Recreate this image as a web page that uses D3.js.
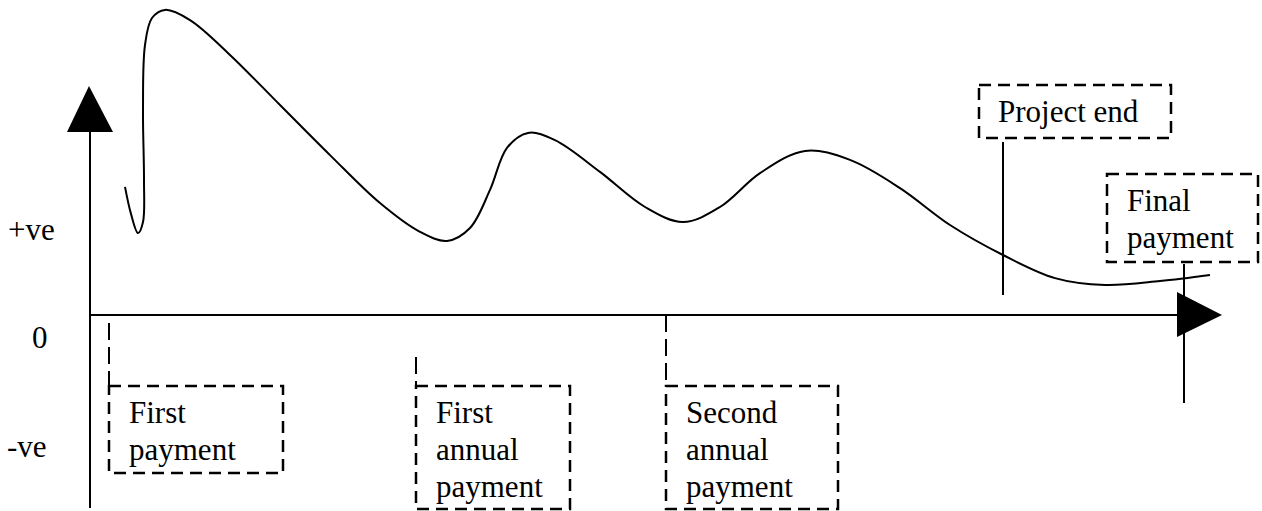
<!DOCTYPE html>
<html>
<head>
<meta charset="utf-8">
<script src="https://cdn.jsdelivr.net/npm/d3@7/dist/d3.min.js"></script>
<style>
  body { margin: 0; background: #fff; }
  svg { display: block; }
  text { font-family: "Liberation Serif", "Times New Roman", serif; font-size: 31px; fill: #000; }
</style>
</head>
<body>
<div id="chart"></div>
<script>
// cash position curve (time units, cash units)
var curveTime = [3.5, 4.1, 4.8, 5.3, 5.4, 5.3, 5.5, 6.2, 7.5, 10.0, 14.0, 19.0, 24.0, 29.0, 33.0,
    35.7, 38.0, 40.0, 41.7, 43.8, 46.5, 51.0, 55.5, 59.3, 63.0, 67.0, 71.5, 76.0, 81.0, 86.0,
    91.3, 96.5, 101.5, 107.0, 112.0];
var curveCash = [42.7, 33.7, 27.3, 31.0, 45.0, 68.3, 90.0, 99.0, 101.7, 98.3, 86.7, 70.0, 53.3, 37.3, 27.7,
    24.7, 29.0, 41.7, 55.7, 60.7, 58.3, 47.7, 36.0, 31.0, 36.0, 47.3, 54.7, 51.7, 42.3, 30.0,
    20.0, 12.3, 10.0, 11.3, 13.3];

// payment events below the axis
var paymentNames = [["First", "payment"], ["First", "annual", "payment"], ["Second", "annual", "payment"]];
var paymentTimes = [1.9, 32.6, 57.6];

// events above the axis
var endNames = [["Project end"], ["Final", "payment"]];
var endTimes = [91.3, 109.4];

var yLabels = ["+ve", "0", "-ve"];

var width = 1262, height = 511;
var svg = d3.select("#chart").append("svg")
    .attr("width", width)
    .attr("height", height);

var x = d3.scaleLinear().domain([0, 113.2]).range([90, 1222]);
var y = d3.scaleLinear().domain([0, 100]).range([315, 15]);

// axes
svg.append("line")
    .attr("x1", x(0)).attr("x2", x(0))
    .attr("y1", y(61)).attr("y2", y(-64.3))
    .attr("stroke", "#000").attr("stroke-width", 2);
svg.append("path")
    .attr("d", "M" + (x(0) - 23) + "," + y(61) + "L" + (x(0) + 23) + "," + y(61) + "L" + (x(0) - 1) + "," + (y(61) - 46) + "Z")
    .attr("fill", "#000");

svg.append("line")
    .attr("x1", x(0)).attr("x2", x(108.7))
    .attr("y1", y(0)).attr("y2", y(0))
    .attr("stroke", "#000").attr("stroke-width", 2);

// y labels
var labelPos = [[8, 240], [32, 348], [7, 457]];
svg.selectAll(".ylab")
    .data(yLabels)
    .enter().append("text")
    .attr("class", "ylab")
    .attr("x", (d, i) => labelPos[i][0])
    .attr("y", (d, i) => labelPos[i][1])
    .text(d => d);

// payment boxes below the axis
var boxW = [174, 154, 172];
var boxTop = 386, boxBottom = [473, 509, 509];
var connTop = [y(-2.7), y(-14), y(0)];

paymentTimes.forEach(function (t, i) {
    var bx = x(t);
    svg.append("line")
        .attr("x1", bx).attr("x2", bx)
        .attr("y1", connTop[i]).attr("y2", boxTop)
        .attr("stroke", "#000").attr("stroke-width", 2)
        .attr("stroke-dasharray", "17,7");
    svg.append("rect")
        .attr("x", bx).attr("y", boxTop)
        .attr("width", boxW[i]).attr("height", boxBottom[i] - boxTop)
        .attr("fill", "none").attr("stroke", "#000").attr("stroke-width", 2.5)
        .attr("stroke-dasharray", "12,7");
    var txt = svg.append("text");
    paymentNames[i].forEach(function (s, j) {
        txt.append("tspan")
            .attr("x", bx + 20)
            .attr("y", boxTop + 37 + j * 37)
            .text(s);
    });
});

// curve
var line = d3.line()
    .x(d => x(d[0]))
    .y(d => y(d[1]))
    .curve(d3.curveCatmullRom.alpha(0.5));

svg.append("path")
    .datum(d3.zip(curveTime, curveCash))
    .attr("d", line)
    .attr("fill", "none")
    .attr("stroke", "#000")
    .attr("stroke-width", 2);

// project end
var pe = x(endTimes[0]);
svg.append("line")
    .attr("x1", pe).attr("x2", pe)
    .attr("y1", 142).attr("y2", y(6.7))
    .attr("stroke", "#000").attr("stroke-width", 2);
svg.append("rect")
    .attr("x", 979).attr("y", 85)
    .attr("width", 192).attr("height", 53)
    .attr("fill", "none").attr("stroke", "#000").attr("stroke-width", 2.5)
    .attr("stroke-dasharray", "12,7");
svg.append("text")
    .attr("x", 998).attr("y", 122)
    .text(endNames[0][0]);

// final payment
var fp = x(endTimes[1]);
svg.append("line")
    .attr("x1", fp).attr("x2", fp)
    .attr("y1", 264).attr("y2", 403)
    .attr("stroke", "#000").attr("stroke-width", 2);
svg.append("rect")
    .attr("x", 1107).attr("y", 174)
    .attr("width", 151).attr("height", 88)
    .attr("fill", "none").attr("stroke", "#000").attr("stroke-width", 2.5)
    .attr("stroke-dasharray", "12,7");
var ft = svg.append("text");
endNames[1].forEach(function (s, j) {
    ft.append("tspan")
        .attr("x", 1127)
        .attr("y", 211 + j * 37)
        .text(s);
});

// x axis arrow head on top
svg.append("path")
    .attr("d", "M" + x(108.7) + "," + (y(0) - 23) + "L" + x(108.7) + "," + (y(0) + 22) + "L" + (x(108.7) + 45) + "," + y(0) + "Z")
    .attr("fill", "#000");
</script>
</body>
</html>
